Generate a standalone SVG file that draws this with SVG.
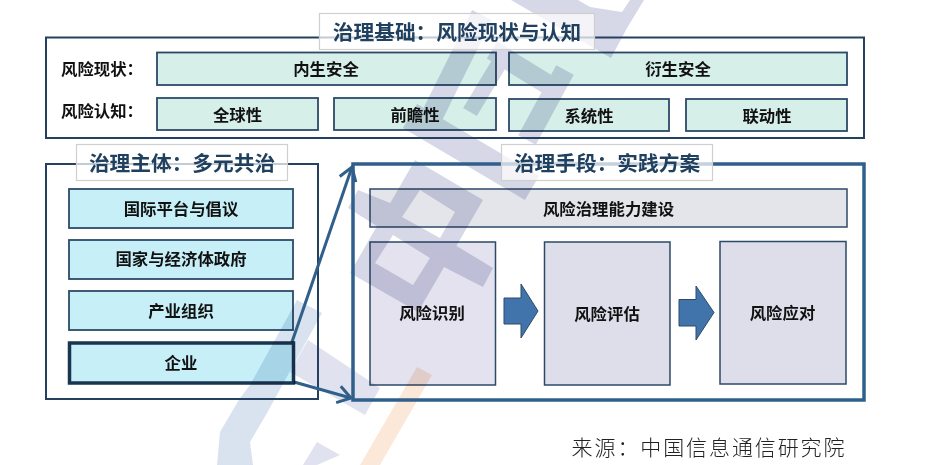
<svg xmlns="http://www.w3.org/2000/svg" width="928" height="465" viewBox="0 0 928 465">
<style>
text{font-family:"Noto Sans CJK SC","Noto Sans",sans-serif;font-weight:700;text-anchor:middle;dominant-baseline:central;fill:#111}
.lb{font-size:16.4px}
.t{font-size:20.7px;fill:#20405f}
.ttl{fill:#fff;fill-opacity:.72;stroke:#cfcfcf;stroke-width:1.2}
.pn{fill:none;stroke:#24415f;stroke-width:2}
.tl,.cy,.lv,.gr{mix-blend-mode:multiply;stroke:#2c4a68}
.tl{fill:#d6efe9;stroke-width:1.8}
.cy{fill:#c6eff8;stroke-width:1.8}
.lv{fill:#dedeeb;stroke-width:1.5}
.gr{fill:#e4e5ea;stroke-width:1.5}
.ba{fill:#4074ab;stroke:#2c4a68;stroke-width:1}
.wl{fill:#d6d8e7}
.wls{fill:none;stroke:#d6d8e7}
.wb{fill:#d8e3ef}
.wo{fill:#fce8d9}
.c{fill:none;stroke:#2f5f8a;stroke-width:3}
</style>
<defs>
<marker id="ah" markerUnits="userSpaceOnUse" markerWidth="24" markerHeight="24" refX="18" refY="12" orient="auto">
<path d="M5 3.5L18 12L5 20.5" fill="none" stroke="#2f5f8a" stroke-width="3"/>
</marker>
</defs>
<g id="watermark">
<polygon class="wl" points="511,0 611,58 627,28 644,0 630,0 622,12 590,7 578,0"/>
<path class="wls" stroke-width="22" d="M425 130L482 15"/>
<path class="wls" stroke-width="28" d="M410 116L532 188"/>
<path class="wls" stroke-width="20" d="M565 70L527 140"/>
<path class="wls" stroke-width="20" d="M492 50L560 92"/>
<path class="wls" stroke-width="16" d="M500 62L470 112"/>
<path class="wl" fill-rule="evenodd" d="M415 160L483 200L418 312L350 273ZM420 190L455 212L440 238L402 217ZM393 235L430 258L413 285L375 263Z"/>
<polygon class="wl" points="358,190 348,208 380,228 395,205"/>
<polygon class="wl" points="455,245 493,268 483,287 440,265"/>
<polygon class="wb" points="297,300 322,313 267,413 250,442 253,465 217,465 220,432 240,398 250,385"/>
<polygon fill="#e0e3ef" points="308,340 380,388 365,415 290,372"/>
<polygon fill="#e0e3ef" points="317,442 340,455 317,465 303,465"/>
<polygon class="wo" points="417,367 432,375 380,465 360,465"/>
</g>
<g id="panels">
<rect class="pn" x="46" y="37.5" width="818" height="100.5"/>
<rect class="pn" x="46" y="164" width="272" height="235"/>
<rect x="353" y="164" width="511" height="236" fill="none" stroke="#2f5f8a" stroke-width="3.5"/>
</g>
<g id="connectors">
<path class="c" d="M292 342L352 167" marker-end="url(#ah)"/>
<path class="c" d="M294 382L351 398" marker-end="url(#ah)"/>
</g>
<g id="title-base"><rect class="ttl" x="319.5" y="13.5" width="275" height="36"/><text class="t" x="457" y="31">治理基础：风险现状与认知</text></g>
<g id="title-subject"><rect class="ttl" x="76.5" y="144.5" width="211" height="36"/><text class="t" x="182" y="162">治理主体：多元共治</text></g>
<g id="title-means"><rect class="ttl" x="501.5" y="144.5" width="211" height="36"/><text class="t" x="607" y="162">治理手段：实践方案</text></g>
<g id="label-status"><text class="lb" x="102" y="68">风险现状：</text></g>
<g id="label-cognition"><text class="lb" x="102" y="110">风险认知：</text></g>
<g id="n1"><rect class="tl" x="157" y="52.5" width="339" height="32.5"/><text class="lb" x="326" y="68">内生安全</text></g>
<g id="n2"><rect class="tl" x="509" y="52.5" width="338" height="32.5"/><text class="lb" x="678" y="68">衍生安全</text></g>
<g id="n3"><rect class="tl" x="157" y="98" width="161" height="32"/><text class="lb" x="237.5" y="114">全球性</text></g>
<g id="n4"><rect class="tl" x="334" y="98" width="162" height="32"/><text class="lb" x="415" y="114">前瞻性</text></g>
<g id="n5"><rect class="tl" x="509" y="99" width="160" height="32"/><text class="lb" x="589" y="115">系统性</text></g>
<g id="n6"><rect class="tl" x="686" y="99" width="161" height="32"/><text class="lb" x="767" y="115">联动性</text></g>
<g id="n7"><rect class="cy" x="69" y="189" width="224" height="39"/><text class="lb" x="181" y="208">国际平台与倡议</text></g>
<g id="n8"><rect class="cy" x="69" y="240" width="224" height="39"/><text class="lb" x="181" y="258">国家与经济体政府</text></g>
<g id="n9"><rect class="cy" x="69" y="291" width="224" height="39"/><text class="lb" x="181" y="310">产业组织</text></g>
<g id="n10"><rect class="cy" x="69.5" y="343" width="224" height="40" style="stroke:#1a3550;stroke-width:3.5"/><text class="lb" x="181" y="361.5">企业</text></g>
<g id="n11"><rect class="gr" x="370" y="189" width="477" height="38"/><text class="lb" x="608.5" y="208">风险治理能力建设</text></g>
<g id="n12"><rect class="lv" x="370" y="242" width="125.5" height="143" style="fill:#e3e2ee"/><text class="lb" x="432" y="312">风险识别</text></g>
<g id="n13"><rect class="lv" x="544.5" y="242" width="125.5" height="143"/><text class="lb" x="607" y="313">风险评估</text></g>
<g id="n14"><rect class="lv" x="720" y="241.5" width="126" height="142.5"/><text class="lb" x="782.5" y="311.5">风险应对</text></g>
<polygon class="ba" points="504,298 521,298 521,284 538,311 521,338 521,324 504,324"/>
<polygon class="ba" points="679,299.5 696,299.5 696,286 714,312.5 696,340 696,326 679,326"/>
<text x="709" y="446" style="font-size:21px;font-weight:300;letter-spacing:1.9px;fill:#222">来源：中国信息通信研究院</text>
</svg>
